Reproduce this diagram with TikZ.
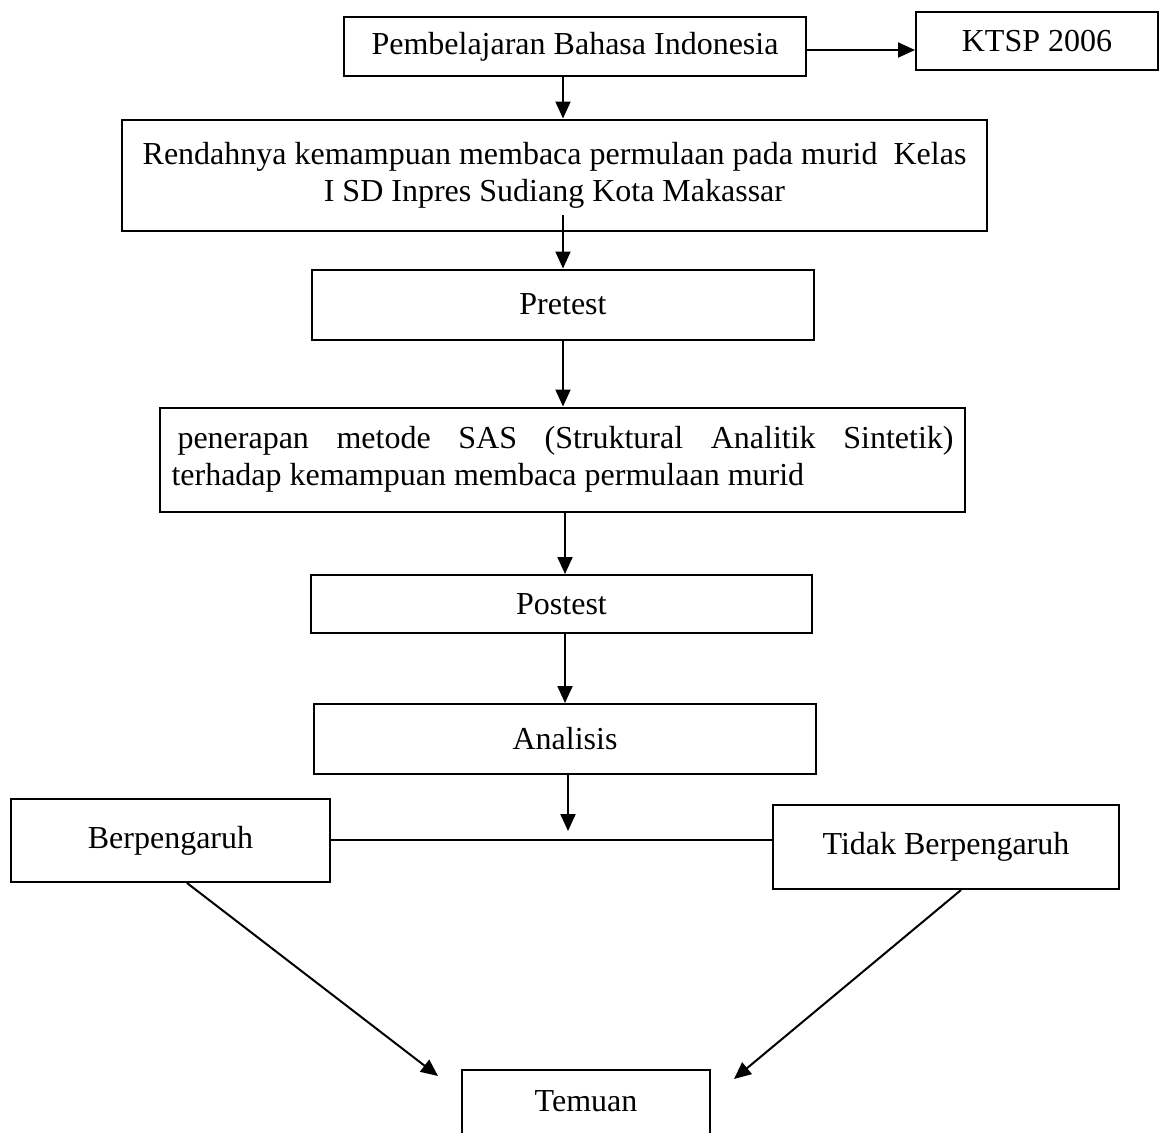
\documentclass[tikz,border=0pt]{standalone}
\usepackage{fontspec}
\setmainfont{Liberation Serif}
\usepackage{tikz}
\usetikzlibrary{arrows.meta}

\tikzset{
  box/.style={draw, line width=2pt, inner sep=0pt, align=center},
  arr/.style={line width=2pt, -{Triangle[length=17pt,width=15pt]}},
  lin/.style={line width=2pt}
}

\begin{document}
\begin{tikzpicture}[x=1pt,y=-1pt,font=\fontsize{32}{37}\selectfont]
        % picture frame
        \clip (0,0) rectangle (1160,1133);
        \fill[white] (0,0) rectangle (1160,1133);
    % boxes
    \node[box, minimum width=462pt, minimum height=59pt] (pbi) at (575,46.5) {Pembelajaran Bahasa Indonesia};
    \node[box, minimum width=242pt, minimum height=58pt] (ktsp) at (1037,41) {KTSP 2006};
    \node[box, minimum width=865pt, minimum height=111pt] (rendah) at (554.5,175)
        {Rendahnya kemampuan membaca permulaan pada murid\ \ Kelas\\ I SD Inpres Sudiang Kota Makassar};
    \node[box, minimum width=502pt, minimum height=70pt] (pre) at (563,304.5) {Pretest};
    \node[box, minimum width=805pt, minimum height=104pt, text width=782pt, align=justify] (sas) at (562.5,459.5)
        {\hspace{6pt}penerapan metode SAS (Struktural Analitik Sintetik)\linebreak terhadap kemampuan membaca permulaan murid};
    \node[box, minimum width=501pt, minimum height=58pt] (post) at (561.5,604) {Postest};
    \node[box, minimum width=502pt, minimum height=70pt] (anal) at (565,739) {Analisis};
    \node[box, minimum width=319pt, minimum height=83pt] (berp) at (170.5,840.5) {Berpengaruh};
    \node[box, minimum width=346pt, minimum height=84pt] (tidak) at (946,847) {Tidak Berpengaruh};
    \node[box, minimum width=248pt, minimum height=100pt, text depth=38pt, anchor=north] (temu) at (586,1069) {Temuan};
    % connectors
    \coordinate (r0) at (563,215);
    \coordinate (b1) at (568,831);
    \coordinate (t1) at (438,1076);
    \coordinate (t2) at (734,1079);
    \draw[arr] (pbi.east |- 0,50) -- (ktsp.west |- 0,50);
    \draw[arr] (pbi.south -| 563,0) -- (rendah.north -| 563,0);
    \draw[arr] (r0) -- (pre.north -| r0);
    \draw[arr] (pre.south -| 563,0) -- (sas.north -| 563,0);
    \draw[arr] (sas.south -| 565,0) -- (post.north -| 565,0);
    \draw[arr] (post.south -| 565,0) -- (anal.north -| 565,0);
    \draw[arr] (anal.south -| b1) -- (b1);
    \draw[lin] (berp.east |- 0,840) -- (tidak.west |- 0,840);
    \draw[arr] (berp.south -| 187,0) -- (t1);
    \draw[arr] (tidak.south -| 961,0) -- (t2);
\end{tikzpicture}
\end{document}
